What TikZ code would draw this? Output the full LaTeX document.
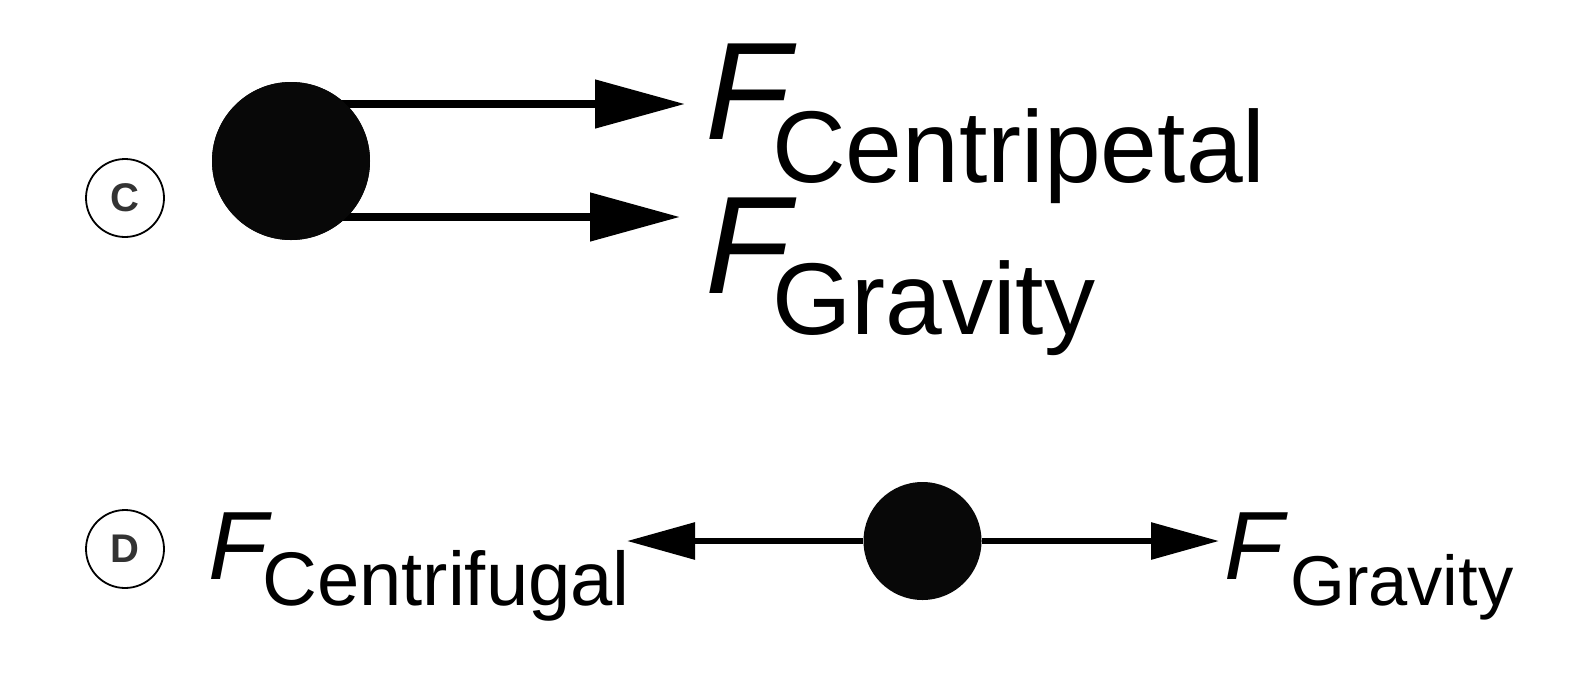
\documentclass[tikz,border=0pt]{standalone}
\usepackage{fontspec}
\setmainfont{Liberation Sans}
\usetikzlibrary{arrows.meta}
\tikzset{
  lbl/.style={circle, draw=black, line width=1.8pt, minimum size=78pt, inner sep=0pt,
    text=black!80, font=\fontsize{40}{40}\selectfont\bfseries},
  ball/.style={circle, fill=black!97!white, inner sep=0pt},
  bigarr/.style={line width=8pt, -{Triangle[length=90pt, width=47pt]}},
  smallarr/.style={line width=6pt, -{Triangle[length=68pt, width=36pt]}},
  Fbig/.style={anchor=base west, inner sep=0pt, font=\fontsize{139}{139}\selectfont\itshape},
  Sbig/.style={anchor=base west, inner sep=0pt, font=\fontsize{102}{102}\selectfont},
  Fsmall/.style={anchor=base west, inner sep=0pt, font=\fontsize{97}{97}\selectfont\itshape},
  Ssmall/.style={anchor=base west, inner sep=0pt, font=\fontsize{76}{76}\selectfont},
  Ssmallb/.style={anchor=base west, inner sep=0pt, font=\fontsize{70.5}{70.5}\selectfont},
}
\begin{document}
\begin{tikzpicture}[x=1pt, y=-1pt]
\useasboundingbox (0,0) rectangle (1586,678);
% row C
\node[lbl] (c) at (125,198) {C};
\node[ball, minimum size=158pt] (b1) at (291,161) {};
\coordinate (t1) at (685,104);
\coordinate (t2) at (680,217);
\draw[bigarr] (b1.center |- t1) -- (t1);
\draw[bigarr] (b1.center |- t2) -- (t2);
\node[ball, minimum size=158pt] at (291,161) {};
\node[Fbig] (f1) at (705,139) {F};
\node[Sbig] (s1) at (772,182) {Centripetal};
\node[Fbig] (f2) at (705,293) {F};
\node[Sbig] (s2) at (772,334) {Gravity};
% row D
\node[lbl] (d) at (125,549) {D};
\node[ball, minimum size=118pt] (b2) at (922.5,541) {};
\coordinate (t3) at (627,541);
\coordinate (t4) at (1219,541);
\draw[smallarr] (b2) -- (t3);
\draw[smallarr] (b2) -- (t4);
\node[Fsmall] (f3) at (208,579) {F};
\node[Ssmall] (s3) at (262,605) {Centrifugal};
\node[Fsmall] (f4) at (1224,579) {F};
\node[Ssmallb] (s4) at (1290,605) {Gravity};
\end{tikzpicture}
\end{document}
